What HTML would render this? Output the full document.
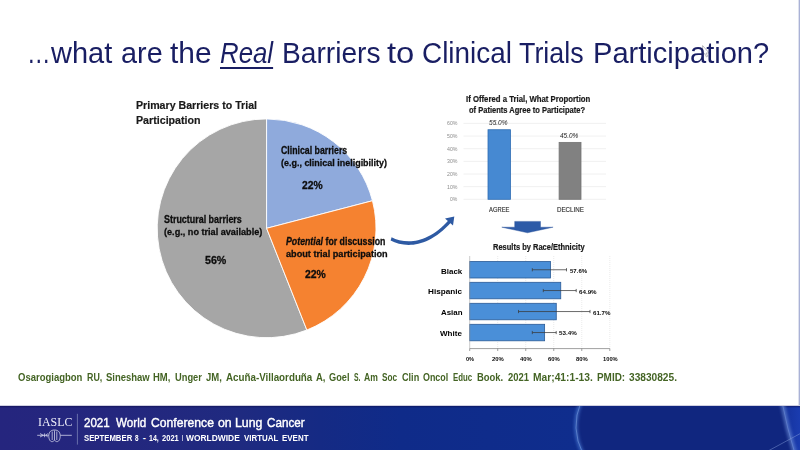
<!DOCTYPE html>
<html lang="en"><head><meta charset="utf-8"><title>Barriers to Clinical Trials Participation</title>
<style>
html,body{margin:0;padding:0;}
body{width:800px;height:450px;overflow:hidden;background:#fff;font-family:"Liberation Sans",sans-serif;}
#slide{position:relative;width:800px;height:450px;overflow:hidden;background:#fff;}
.t{position:absolute;white-space:nowrap;line-height:1;transform-origin:0 0;}
svg{position:absolute;left:0;top:0;}
#footer{position:absolute;left:0;top:406px;width:800px;height:44px;background:linear-gradient(90deg,#25257e 0%,#24277e 15%,#1f2a80 30%,#152a84 40%,#0f2b89 50%,#0f2d8d 72%,#112f92 97%,#1736a4 98.8%,#1a3cb0 100%);}
#fshade{position:absolute;left:0;top:-1px;width:800px;height:3px;background:linear-gradient(180deg,rgba(40,40,120,0.22) 0%,rgba(40,40,120,0.22) 33%,rgba(10,10,70,0.55) 34%,rgba(10,10,70,0) 100%);}
#edge{position:absolute;right:0;top:0;width:2px;height:405px;background:linear-gradient(90deg,#dfe2ef 0%,#dfe2ef 50%,#aab2d6 50%,#aab2d6 100%);}
.g{display:contents;margin:0;padding:0;font-weight:normal;font-size:inherit;}

</style></head>
<body>
<div id="slide">
<div id="edge"></div>
<div id="footer"><div id="fshade"></div></div>
<svg width="800" height="450" viewBox="0 0 800 450">
<g stroke="#fff" stroke-width="0.9" stroke-linejoin="round">
<path d="M266.6 228.3 L306.87 330.02 A109.4 109.4 0 1 1 266.60 118.90 Z" fill="#a6a6a6"/>
<path d="M266.6 228.3 L266.60 118.90 A109.4 109.4 0 0 1 372.47 200.72 Z" fill="#8faadc"/>
<path d="M266.6 228.3 L372.47 200.72 A109.4 109.4 0 0 1 306.87 330.02 Z" fill="#f58230"/>
</g>
<path d="M391.6 237.2 C404 243.5 426 246 449.2 219.6 L451.6 221.8 C427 249.5 404 247.5 390.6 240.6 Z" fill="#2e5aa3"/>
<path d="M454.3 216.6 L445.0 218.6 L453.0 225.6 Z" fill="#2e5aa3"/>
<path d="M514.7 221.4 H540.5 V227.2 H553.1 L527.5 232.8 L501.8 227.2 H514.7 Z" fill="#2c5aa7" stroke="#264f98" stroke-width="0.4"/>
<path d="M463.5 123.40H606 M463.5 136.05H606 M463.5 148.70H606 M463.5 161.35H606 M463.5 174.00H606 M463.5 186.65H606 M463.5 199.30H606" stroke="#ececec" stroke-width="0.8" fill="none"/>
<rect x="488" y="129.73" width="22.5" height="69.57" fill="#4689d2" stroke="#2f6db3" stroke-width="0.8"/>
<rect x="559.1" y="142.38" width="21.899999999999977" height="56.93" fill="#818181" stroke="#747474" stroke-width="0.8"/>
<path d="M497.72 256V348.6 M525.74 256V348.6 M553.76 256V348.6 M581.78 256V348.6 M609.80 256V348.6" stroke="#dcdcdc" stroke-width="0.6" stroke-dasharray="1 1" fill="none"/>
<rect x="469.7" y="261.5" width="80.81" height="16.5" fill="#4a8fd8" stroke="#2a5a96" stroke-width="0.8"/>
<path d="M532.3 269.75H566.5M532.3 268.15V271.35M566.5 268.15V271.35" stroke="#3a3a3a" stroke-width="0.75" fill="none"/>
<rect x="469.7" y="282.3" width="91.05" height="16.5" fill="#4a8fd8" stroke="#2a5a96" stroke-width="0.8"/>
<path d="M543.3 290.55H576.2M543.3 288.95V292.15000000000003M576.2 288.95V292.15000000000003" stroke="#3a3a3a" stroke-width="0.75" fill="none"/>
<rect x="469.7" y="303.3" width="86.57" height="16.5" fill="#4a8fd8" stroke="#2a5a96" stroke-width="0.8"/>
<path d="M518.5 311.55H590M518.5 309.95V313.15000000000003M590 309.95V313.15000000000003" stroke="#3a3a3a" stroke-width="0.75" fill="none"/>
<rect x="469.7" y="324.3" width="74.92" height="16.5" fill="#4a8fd8" stroke="#2a5a96" stroke-width="0.8"/>
<path d="M532.3 332.55H556.2M532.3 330.95V334.15000000000003M556.2 330.95V334.15000000000003" stroke="#3a3a3a" stroke-width="0.75" fill="none"/>
<path d="M469.7 256V348.6" stroke="#a8a8a8" stroke-width="0.6" fill="none"/>
<path d="M469.7 348.6H609.8 M469.70 348.6V351.0 M497.72 348.6V351.0 M525.74 348.6V351.0 M553.76 348.6V351.0 M581.78 348.6V351.0 M609.80 348.6V351.0" stroke="#777" stroke-width="0.7" fill="none"/>
<path d="M702.6 45.6V55.6L704.8 53.5L706.4 56.9L707.7 56.3L706.1 53H709.2Z" fill="#fff" stroke="#8a8a94" stroke-width="0.6" stroke-linejoin="round"/>
<defs><filter id="gl" x="-50%" y="-50%" width="200%" height="200%"><feGaussianBlur stdDeviation="1.5"/></filter><clipPath id="fc"><rect x="0" y="406" width="800" height="44"/></clipPath></defs>
<path d="M581 406 Q570.5 428 583 450 L793.5 450 Q787 428 782.6 406 Z" fill="#10267f"/>
<g clip-path="url(#fc)" fill="none"><path d="M581 402 Q570 428 583 454" stroke="#4f80d8" stroke-width="3.6" filter="url(#gl)" opacity="0.6"/><path d="M581 402 Q570 428 583 454" stroke="#9dbdf0" stroke-width="0.9" opacity="0.45"/>
<path d="M782 402 Q787 428 795 454" stroke="#6a8cd8" stroke-width="4.6" filter="url(#gl)" opacity="0.6"/><path d="M782 402 Q787 428 795 454" stroke="#a8c4f2" stroke-width="1" opacity="0.25"/>
<path d="M768 451 L802 432.6" stroke="#8fa8e0" stroke-width="0.8" opacity="0.55"/></g>
<path d="M77.4 413.8V444.6" stroke="#7a80b8" stroke-width="0.8"/>
<g stroke="#dcdef0" stroke-width="0.75" fill="none"><path d="M37.2 435.3H48.6M60.4 435.3H71.8"/><path d="M54.5 430C50 430 48.6 433 48.8 436.5C49 440 50.5 442 52.5 441.6C53.6 441.3 54 440.4 54.5 440.4C55 440.4 55.4 441.3 56.5 441.6C58.5 442 60 440 60.2 436.5C60.4 433 59 430 54.5 430Z"/><path d="M52.2 431.5V440M54.5 430.5V440M56.8 431.5V440"/><path d="M40 433.6L43.4 435.3L40 437M44.6 433.4V437.2M45.8 435.3L47.8 433.6M45.8 435.3L47.8 437"/></g>
</svg>
<h1 class="g">
<span class="t" style='left:26.96px;top:39.00px;font-size:28.9px;color:#191e63;transform:scaleX(0.8136);'>…</span>
<span class="t" style='left:51.00px;top:39.00px;font-size:28.9px;color:#191e63;transform:scaleX(1.0032);'>what</span>
<span class="t" style='left:120.60px;top:39.00px;font-size:28.9px;color:#191e63;transform:scaleX(0.9978);'>are</span>
<span class="t" style='left:169.70px;top:39.00px;font-size:28.9px;color:#191e63;transform:scaleX(1.0360);'>the</span>
<span class="t" style='left:220.30px;top:39.00px;font-size:28.9px;color:#191e63;font-style:italic;transform:scaleX(0.8935);text-decoration:underline;text-decoration-thickness:1.5px;text-underline-offset:3.6px;'>Real</span>
<span class="t" style='left:281.85px;top:39.00px;font-size:28.9px;color:#191e63;transform:scaleX(0.9748);'>Barriers</span>
<span class="t" style='left:387.40px;top:39.00px;font-size:28.9px;color:#191e63;transform:scaleX(1.1335);'>to</span>
<span class="t" style='left:421.53px;top:39.00px;font-size:28.9px;color:#191e63;transform:scaleX(0.9658);'>Clinical</span>
<span class="t" style='left:519.40px;top:39.00px;font-size:28.9px;color:#191e63;transform:scaleX(0.9291);'>Trials</span>
<span class="t" style='left:593.19px;top:39.00px;font-size:28.9px;color:#191e63;transform:scaleX(1.0065);'>Participation?</span>
</h1>
<section class="g pie">
<span class="t" style='left:136.00px;top:99.01px;font-size:11.6px;color:#1a1a1a;font-weight:bold;transform:scaleX(0.9159);-webkit-text-stroke:0.2px #1a1a1a;'>Primary Barriers to Trial</span>
<span class="t" style='left:136.00px;top:113.81px;font-size:11.6px;color:#1a1a1a;font-weight:bold;transform:scaleX(0.9198);-webkit-text-stroke:0.2px #1a1a1a;'>Participation</span>
<span class="t" style='left:281.30px;top:145.52px;font-size:10.0px;color:#0d0d0d;font-weight:bold;transform:scaleX(0.8757);-webkit-text-stroke:0.28px #0d0d0d;'>Clinical barriers</span>
<span class="t" style='left:281.00px;top:157.70px;font-size:9.7px;color:#0d0d0d;font-weight:bold;transform:scaleX(0.9245);-webkit-text-stroke:0.28px #0d0d0d;'>(e.g., clinical ineligibility)</span>
<span class="t" style='left:301.70px;top:179.60px;font-size:10.6px;color:#0d0d0d;font-weight:bold;transform:scaleX(0.9716);-webkit-text-stroke:0.28px #0d0d0d;'>22%</span>
<span class="t" style='left:164.20px;top:214.81px;font-size:10.0px;color:#0d0d0d;font-weight:bold;transform:scaleX(0.8915);-webkit-text-stroke:0.28px #0d0d0d;'>Structural barriers</span>
<span class="t" style='left:164.20px;top:227.40px;font-size:9.7px;color:#0d0d0d;font-weight:bold;transform:scaleX(0.9411);-webkit-text-stroke:0.28px #0d0d0d;'>(e.g., no trial available)</span>
<span class="t" style='left:205.00px;top:255.21px;font-size:10.6px;color:#0d0d0d;font-weight:bold;transform:scaleX(1.0046);-webkit-text-stroke:0.28px #0d0d0d;'>56%</span>
<span class="t" style='left:285.80px;top:237.02px;font-size:10.0px;color:#0d0d0d;font-weight:bold;transform:scaleX(0.8769);-webkit-text-stroke:0.28px #0d0d0d;'><i>Potential</i> for discussion</span>
<span class="t" style='left:285.80px;top:249.01px;font-size:9.7px;color:#0d0d0d;font-weight:bold;transform:scaleX(0.9447);-webkit-text-stroke:0.28px #0d0d0d;'>about trial participation</span>
<span class="t" style='left:305.00px;top:269.30px;font-size:10.6px;color:#0d0d0d;font-weight:bold;transform:scaleX(0.9810);-webkit-text-stroke:0.28px #0d0d0d;'>22%</span>
</section>
<section class="g chart1">
<span class="t" style='left:465.50px;top:94.71px;font-size:8.4px;color:#1a1a1a;font-weight:bold;transform:scaleX(0.9275);-webkit-text-stroke:0.2px #1a1a1a;'>If Offered a Trial, What Proportion</span>
<span class="t" style='left:469.30px;top:105.51px;font-size:8.4px;color:#1a1a1a;font-weight:bold;transform:scaleX(0.8987);-webkit-text-stroke:0.2px #1a1a1a;'>of Patients Agree to Participate?</span>
<span class="t" style='left:447.30px;top:121.40px;font-size:5.6px;color:#8c8c8c;transform:scaleX(0.9372);'>60%</span>
<span class="t" style='left:447.30px;top:134.06px;font-size:5.6px;color:#8c8c8c;transform:scaleX(0.9372);'>50%</span>
<span class="t" style='left:447.30px;top:146.71px;font-size:5.6px;color:#8c8c8c;transform:scaleX(0.9372);'>40%</span>
<span class="t" style='left:447.30px;top:159.35px;font-size:5.6px;color:#8c8c8c;transform:scaleX(0.9372);'>30%</span>
<span class="t" style='left:447.30px;top:172.01px;font-size:5.6px;color:#8c8c8c;transform:scaleX(0.9372);'>20%</span>
<span class="t" style='left:447.30px;top:184.65px;font-size:5.6px;color:#8c8c8c;transform:scaleX(0.9372);'>10%</span>
<span class="t" style='left:450.40px;top:197.31px;font-size:5.6px;color:#8c8c8c;transform:scaleX(0.9143);'>0%</span>
<span class="t" style='left:489.30px;top:120.41px;font-size:6.4px;color:#222;font-style:italic;transform:scaleX(1.0207);'>55.0%</span>
<span class="t" style='left:560.40px;top:133.31px;font-size:6.4px;color:#222;font-style:italic;transform:scaleX(1.0097);'>45.0%</span>
<span class="t" style='left:488.90px;top:206.31px;font-size:7.3px;color:#333;transform:scaleX(0.7985);-webkit-text-stroke:0.15px #333;'>AGREE</span>
<span class="t" style='left:556.60px;top:206.31px;font-size:7.3px;color:#333;transform:scaleX(0.8470);-webkit-text-stroke:0.15px #333;'>DECLINE</span>
</section>
<section class="g chart2">
<span class="t" style='left:492.60px;top:242.61px;font-size:8.4px;color:#1a1a1a;font-weight:bold;transform:scaleX(0.8945);-webkit-text-stroke:0.2px #1a1a1a;'>Results by Race/Ethnicity</span>
<span class="t" style='left:440.80px;top:267.71px;font-size:8px;color:#000;font-weight:bold;transform:scaleX(0.9972);'>Black</span>
<span class="t" style='left:428.10px;top:288.40px;font-size:8px;color:#000;font-weight:bold;transform:scaleX(1.0197);'>Hispanic</span>
<span class="t" style='left:440.60px;top:309.31px;font-size:8px;color:#000;font-weight:bold;transform:scaleX(0.9864);'>Asian</span>
<span class="t" style='left:440.20px;top:330.31px;font-size:8px;color:#000;font-weight:bold;transform:scaleX(1.0055);'>White</span>
<span class="t" style='left:570.10px;top:268.81px;font-size:5.9px;color:#0a0a0a;font-weight:bold;transform:scaleX(1.0238);'>57.6%</span>
<span class="t" style='left:579.20px;top:289.60px;font-size:5.9px;color:#0a0a0a;font-weight:bold;transform:scaleX(1.0537);'>64.9%</span>
<span class="t" style='left:592.90px;top:310.51px;font-size:5.9px;color:#0a0a0a;font-weight:bold;transform:scaleX(1.0477);'>61.7%</span>
<span class="t" style='left:559.20px;top:331.31px;font-size:5.9px;color:#0a0a0a;font-weight:bold;transform:scaleX(1.0597);'>53.4%</span>
<span class="t" style='left:465.95px;top:356.60px;font-size:5.9px;color:#0a0a0a;font-weight:bold;transform:scaleX(0.9512);'>0%</span>
<span class="t" style='left:492.12px;top:356.60px;font-size:5.9px;color:#0a0a0a;font-weight:bold;transform:scaleX(1.0003);'>20%</span>
<span class="t" style='left:520.14px;top:356.60px;font-size:5.9px;color:#0a0a0a;font-weight:bold;transform:scaleX(1.0003);'>40%</span>
<span class="t" style='left:548.16px;top:356.60px;font-size:5.9px;color:#0a0a0a;font-weight:bold;transform:scaleX(1.0003);'>60%</span>
<span class="t" style='left:576.18px;top:356.60px;font-size:5.9px;color:#0a0a0a;font-weight:bold;transform:scaleX(1.0003);'>80%</span>
<span class="t" style='left:602.75px;top:356.60px;font-size:5.9px;color:#0a0a0a;font-weight:bold;transform:scaleX(0.9749);'>100%</span>
</section>
<p class="g cite">
<span class="t" style='left:18.30px;top:373.01px;font-size:10.2px;color:#446424;font-weight:bold;transform:scaleX(0.9327);'>Osarogiagbon</span>
<span class="t" style='left:86.50px;top:373.01px;font-size:10.2px;color:#446424;font-weight:bold;transform:scaleX(0.8694);'>RU,</span>
<span class="t" style='left:105.60px;top:373.01px;font-size:10.2px;color:#446424;font-weight:bold;transform:scaleX(0.9306);'>Sineshaw</span>
<span class="t" style='left:153.10px;top:373.01px;font-size:10.2px;color:#446424;font-weight:bold;transform:scaleX(0.9287);'>HM,</span>
<span class="t" style='left:175.00px;top:373.01px;font-size:10.2px;color:#446424;font-weight:bold;transform:scaleX(0.9128);'>Unger</span>
<span class="t" style='left:206.25px;top:373.01px;font-size:10.2px;color:#446424;font-weight:bold;transform:scaleX(0.9328);'>JM,</span>
<span class="t" style='left:225.60px;top:373.01px;font-size:10.2px;color:#446424;font-weight:bold;transform:scaleX(0.9606);'>Acuña-Villaorduña</span>
<span class="t" style='left:316.00px;top:373.01px;font-size:10.2px;color:#446424;font-weight:bold;transform:scaleX(0.9269);'>A,</span>
<span class="t" style='left:329.40px;top:373.01px;font-size:10.2px;color:#446424;font-weight:bold;transform:scaleX(0.9030);'>Goel</span>
<span class="t" style='left:353.75px;top:373.01px;font-size:10.2px;color:#446424;font-weight:bold;transform:scaleX(0.6687);'>S.</span>
<span class="t" style='left:364.40px;top:373.01px;font-size:10.2px;color:#446424;font-weight:bold;transform:scaleX(0.8437);'>Am</span>
<span class="t" style='left:382.40px;top:373.01px;font-size:10.2px;color:#446424;font-weight:bold;transform:scaleX(0.8045);'>Soc</span>
<span class="t" style='left:402.00px;top:373.01px;font-size:10.2px;color:#446424;font-weight:bold;transform:scaleX(0.8939);'>Clin</span>
<span class="t" style='left:422.75px;top:373.01px;font-size:10.2px;color:#446424;font-weight:bold;transform:scaleX(0.8731);'>Oncol</span>
<span class="t" style='left:452.50px;top:373.01px;font-size:10.2px;color:#446424;font-weight:bold;transform:scaleX(0.7686);'>Educ</span>
<span class="t" style='left:476.70px;top:373.01px;font-size:10.2px;color:#446424;font-weight:bold;transform:scaleX(0.9273);'>Book.</span>
<span class="t" style='left:507.50px;top:373.01px;font-size:10.2px;color:#446424;font-weight:bold;transform:scaleX(0.9240);'>2021</span>
<span class="t" style='left:533.10px;top:373.01px;font-size:10.2px;color:#446424;font-weight:bold;transform:scaleX(1.0063);'>Mar;41:1-13.</span>
<span class="t" style='left:597.25px;top:373.01px;font-size:10.2px;color:#446424;font-weight:bold;transform:scaleX(0.9748);'>PMID:</span>
<span class="t" style='left:628.75px;top:373.01px;font-size:10.2px;color:#446424;font-weight:bold;transform:scaleX(0.9963);'>33830825.</span>
</p>
<footer class="g">
<span class="t" style='left:37.60px;top:415.61px;font-size:12.8px;color:#f0f0fa;font-family:"Liberation Serif", serif;transform:scaleX(0.9276);'>IASLC</span>
<span class="t" style='left:84.20px;top:416.91px;font-size:12.4px;color:#fff;transform:scaleX(0.9323);-webkit-text-stroke:0.4px #fff;'>2021</span>
<span class="t" style='left:115.70px;top:416.91px;font-size:12.4px;color:#fff;transform:scaleX(0.9398);-webkit-text-stroke:0.4px #fff;'>World</span>
<span class="t" style='left:151.20px;top:416.91px;font-size:12.4px;color:#fff;transform:scaleX(0.9818);-webkit-text-stroke:0.4px #fff;'>Conference</span>
<span class="t" style='left:217.70px;top:416.91px;font-size:12.4px;color:#fff;transform:scaleX(0.9934);-webkit-text-stroke:0.4px #fff;'>on</span>
<span class="t" style='left:234.71px;top:416.91px;font-size:12.4px;color:#fff;transform:scaleX(0.9935);-webkit-text-stroke:0.4px #fff;'>Lung</span>
<span class="t" style='left:266.70px;top:416.91px;font-size:12.4px;color:#fff;transform:scaleX(0.9418);-webkit-text-stroke:0.4px #fff;'>Cancer</span>
<span class="t" style='left:84.20px;top:433.32px;font-size:9.6px;color:#fff;font-weight:bold;transform:scaleX(0.8080);'>SEPTEMBER</span>
<span class="t" style='left:135.20px;top:433.32px;font-size:9.6px;color:#fff;font-weight:bold;transform:scaleX(0.6667);'>8</span>
<span class="t" style='left:142.70px;top:433.32px;font-size:9.6px;color:#fff;font-weight:bold;'>-</span>
<span class="t" style='left:148.70px;top:433.32px;font-size:9.6px;color:#fff;font-weight:bold;transform:scaleX(0.7315);'>14,</span>
<span class="t" style='left:161.70px;top:433.32px;font-size:9.6px;color:#fff;font-weight:bold;transform:scaleX(0.7861);'>2021</span>
<span class="t" style='left:181.70px;top:433.32px;font-size:9.6px;color:#fff;font-weight:bold;transform:scaleX(0.4333);'>I</span>
<span class="t" style='left:186.20px;top:433.32px;font-size:9.6px;color:#fff;font-weight:bold;transform:scaleX(0.8775);'>WORLDWIDE</span>
<span class="t" style='left:243.50px;top:433.32px;font-size:9.6px;color:#fff;font-weight:bold;transform:scaleX(0.8271);'>VIRTUAL</span>
<span class="t" style='left:281.70px;top:433.32px;font-size:9.6px;color:#fff;font-weight:bold;transform:scaleX(0.8280);'>EVENT</span>
</footer>
</div>
</body></html>
